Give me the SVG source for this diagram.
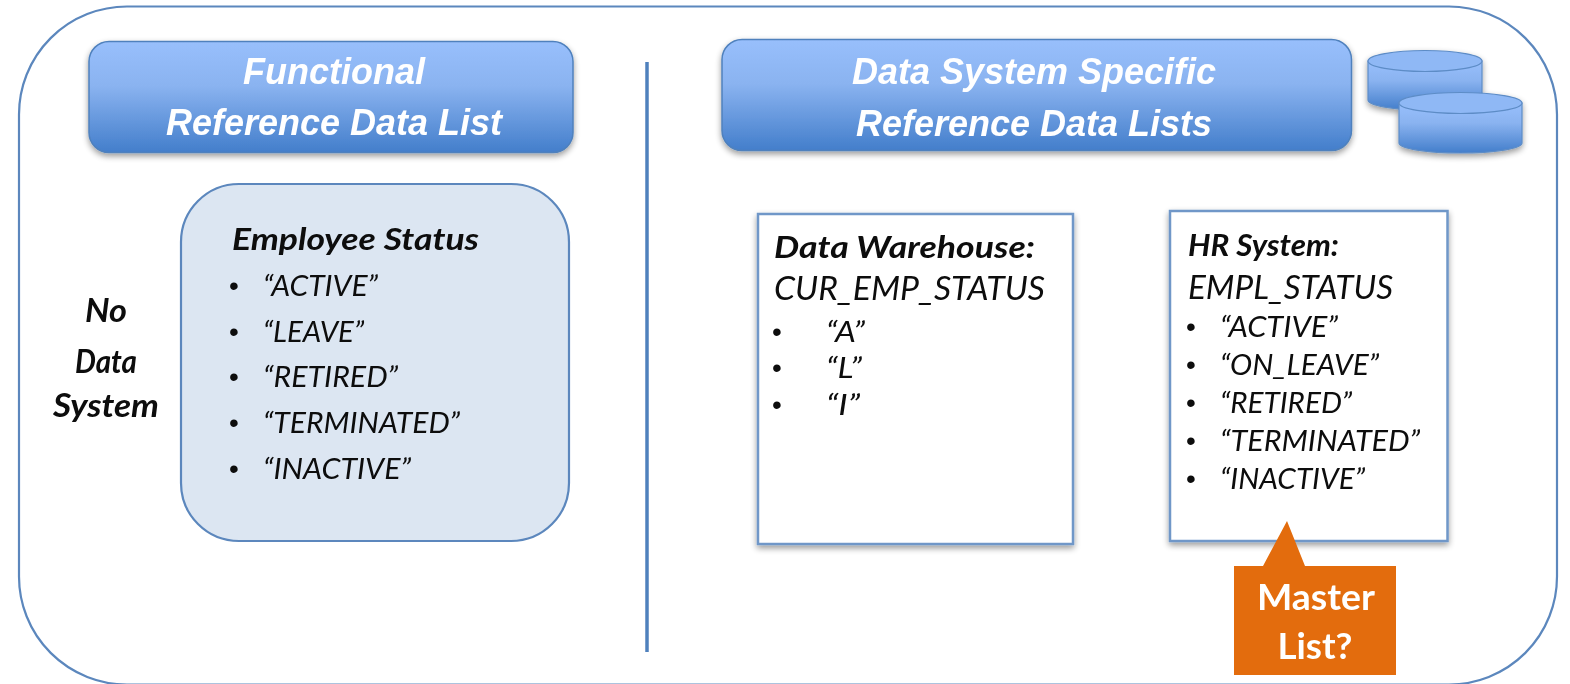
<svg xmlns="http://www.w3.org/2000/svg" width="1570" height="684" viewBox="0 0 1570 684">
<defs>
<linearGradient id="blue" x1="0" y1="0" x2="0" y2="1"><stop offset="0" stop-color="#98bffc"/><stop offset="0.4" stop-color="#8ab3f0"/><stop offset="1" stop-color="#437ecb"/></linearGradient>
<filter id="sh" x="-5%" y="-10%" width="110%" height="125%"><feGaussianBlur in="SourceAlpha" stdDeviation="3"/><feOffset dy="3"/><feComponentTransfer><feFuncA type="linear" slope="0.4"/></feComponentTransfer><feMerge><feMergeNode/><feMergeNode in="SourceGraphic"/></feMerge></filter>
<filter id="soft" x="0" y="0" width="1570" height="684" filterUnits="userSpaceOnUse" primitiveUnits="userSpaceOnUse"><feGaussianBlur stdDeviation="0.7"/></filter>
</defs>
<style>
text{font-family:"Lato","Open Sans","Liberation Sans",sans-serif;fill:#0a0a0a}
.h{font-family:"Liberation Sans",Arial,sans-serif;font-weight:700;font-style:italic;font-size:36px;fill:#fff;text-anchor:middle}
.hd{fill:url(#blue);stroke:#4f81bd;stroke-width:1.5}
.b{font-weight:700;font-style:italic;font-size:31px}
.i{font-style:italic;font-size:28px}
.d{font-family:"Liberation Sans",sans-serif;font-size:28px}
.t{font-style:italic;font-size:32px}
.n{font-weight:700;font-style:italic;font-size:32px;text-anchor:middle}
.box{fill:#fff;stroke:#6f97c8;stroke-width:2.5}
.cy{fill:url(#blue);stroke:#5d8cc6;stroke-width:1.2}
.top{fill:#8fb8f5;stroke:#5d8cc6;stroke-width:1.2}
.m{font-weight:700;font-size:37px;fill:#fff;text-anchor:middle}
</style>
<rect width="1570" height="684" fill="#fff"/>
<g filter="url(#soft)">
<g id="frame"><rect x="19" y="6.5" width="1538" height="678" rx="108" ry="108" fill="#fff" stroke="#5b87bd" stroke-width="2.2"/></g>
<g id="connectors"><line x1="647" y1="62" x2="647" y2="652" stroke="#4f81bd" stroke-width="3.5"/></g>
<g id="functional-header"><rect class="hd" x="89" y="41.5" width="484" height="111" rx="20" filter="url(#sh)"/>
<text class="h" x="334" y="84">Functional</text><text class="h" x="334" y="135">Reference Data List</text></g>
<g id="employee-status"><rect x="181" y="184" width="388" height="357" rx="58" fill="#dce6f2" stroke="#5b87bd" stroke-width="2.2"/>
<text class="b" x="232" y="250" textLength="247" lengthAdjust="spacingAndGlyphs">Employee Status</text>
<text class="d" x="229" y="295">•</text><text class="i" x="263" y="296" textLength="115" lengthAdjust="spacingAndGlyphs">“ACTIVE”</text>
<text class="d" x="229" y="341">•</text><text class="i" x="263" y="342" textLength="101" lengthAdjust="spacingAndGlyphs">“LEAVE”</text>
<text class="d" x="229" y="386">•</text><text class="i" x="263" y="387" textLength="135" lengthAdjust="spacingAndGlyphs">“RETIRED”</text>
<text class="d" x="229" y="432">•</text><text class="i" x="263" y="433" textLength="197" lengthAdjust="spacingAndGlyphs">“TERMINATED”</text>
<text class="d" x="229" y="478">•</text><text class="i" x="263" y="479" textLength="148" lengthAdjust="spacingAndGlyphs">“INACTIVE”</text></g>
<g id="no-data-system"><text class="n" x="106" y="322" textLength="42" lengthAdjust="spacingAndGlyphs">No</text><text class="n" x="106" y="373" textLength="62" lengthAdjust="spacingAndGlyphs">Data</text><text class="n" x="106" y="417" textLength="106" lengthAdjust="spacingAndGlyphs">System</text></g>
<g id="system-header"><rect class="hd" x="722" y="39.5" width="629.500" height="111" rx="20" filter="url(#sh)"/>
<text class="h" x="1034" y="84">Data System Specific</text><text class="h" x="1034" y="136">Reference Data Lists</text></g>
<g id="database-icon" filter="url(#sh)">
<path class="cy" d="M1368 61V100A57 10 0 0 0 1482 100V61Z"/><ellipse class="top" cx="1425" cy="61" rx="57" ry="10.5"/>
<path class="cy" d="M1399 103V143A61.500 10 0 0 0 1522 143V103Z"/><ellipse class="top" cx="1460.500" cy="103" rx="61.500" ry="10.5"/></g>
<g id="data-warehouse"><rect class="box" x="758" y="214" width="315" height="330" filter="url(#sh)"/>
<text class="b" x="774" y="258" textLength="261" lengthAdjust="spacingAndGlyphs">Data Warehouse:</text><text class="t" x="774" y="300" textLength="271" lengthAdjust="spacingAndGlyphs">CUR_EMP_STATUS</text>
<text class="d" x="772" y="341">•</text><text class="i" x="826" y="342" textLength="39" lengthAdjust="spacingAndGlyphs">“A”</text>
<text class="d" x="772" y="377">•</text><text class="i" x="826" y="378" textLength="36" lengthAdjust="spacingAndGlyphs">“L”</text>
<text class="d" x="772" y="414">•</text><text class="i" x="826" y="415" textLength="34" lengthAdjust="spacingAndGlyphs">“I”</text></g>
<g id="hr-system"><rect class="box" x="1170" y="211" width="277.500" height="330" filter="url(#sh)"/>
<text class="b" x="1188" y="256" textLength="151" lengthAdjust="spacingAndGlyphs">HR System:</text><text class="t" x="1188" y="299" textLength="205" lengthAdjust="spacingAndGlyphs">EMPL_STATUS</text>
<text class="d" x="1186" y="336">•</text><text class="i" x="1220" y="337" textLength="118" lengthAdjust="spacingAndGlyphs">“ACTIVE”</text>
<text class="d" x="1186" y="374">•</text><text class="i" x="1220" y="375" textLength="159" lengthAdjust="spacingAndGlyphs">“ON_LEAVE”</text>
<text class="d" x="1186" y="412">•</text><text class="i" x="1220" y="413" textLength="132" lengthAdjust="spacingAndGlyphs">“RETIRED”</text>
<text class="d" x="1186" y="450">•</text><text class="i" x="1220" y="451" textLength="200" lengthAdjust="spacingAndGlyphs">“TERMINATED”</text>
<text class="d" x="1186" y="488">•</text><text class="i" x="1220" y="489" textLength="145" lengthAdjust="spacingAndGlyphs">“INACTIVE”</text></g>
<g id="master-list"><path d="M1234 566H1263L1287 521L1305 566H1396V675H1234Z" fill="#e36c0a"/>
<text class="m" x="1316" y="610" textLength="118" lengthAdjust="spacingAndGlyphs">Master</text><text class="m" x="1315" y="659" textLength="75" lengthAdjust="spacingAndGlyphs">List?</text></g>
</g>
</svg>
